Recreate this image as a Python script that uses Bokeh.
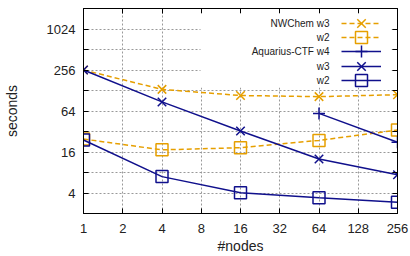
from bokeh.plotting import figure
from bokeh.models import Range1d, FixedTicker, LogAxis, Legend, LegendItem, Label, BoxAnnotation
from bokeh.embed import file_html
from bokeh.resources import INLINE

# ---- data ----
nodes = [1, 4, 16, 64, 256]
nwchem_w3 = [256, 133, 108, 104, 111]
nwchem_w2 = [24.8, 17.2, 18.5, 23.7, 33.6]
aq_w4_nodes = [64, 256]
aq_w4 = [59, 22.2]
aq_w3 = [256, 87, 32.5, 12.6, 7.4]
aq_w2 = [24, 6.96, 4.03, 3.41, 2.93]

x_ticks = [1, 2, 4, 8, 16, 32, 64, 128, 256]
x_tick_labels = ["1", "2", "4", "8", "16", "32", "64", "128", "256"]
y_ticks = [4, 16, 64, 256, 1024]
y_tick_labels = ["4", "16", "64", "256", "1024"]
y_minor = [8, 32, 128, 512]
y_all = [4, 8, 16, 32, 64, 128, 256, 512, 1024]

legend_labels = ["NWChem w3", "w2", "Aquarius-CTF w4", "w3", "w2"]

ORANGE = "#e69f00"
NAVY = "#10108c"
FONT = "Liberation Sans"

W, H = 410, 256
p = figure(width=W, height=H, x_axis_type="log", y_axis_type="log",
           x_range=Range1d(1, 256), y_range=Range1d(2, 2048),
           output_backend="svg", toolbar_location=None,
           min_border_left=81, min_border_right=13, min_border_top=8, min_border_bottom=43)

p.outline_line_color = "black"
p.background_fill_color = "white"

xt = FixedTicker(ticks=x_ticks, minor_ticks=[])
yt = FixedTicker(ticks=y_ticks, minor_ticks=y_minor)

def style_axis(ax, ticker, labels):
    ax.ticker = ticker
    ax.major_label_overrides = labels
    ax.major_tick_in = 5
    ax.major_tick_out = 0
    ax.minor_tick_in = 5
    ax.minor_tick_out = 0
    ax.axis_line_color = "black"
    ax.major_tick_line_color = "black"
    ax.minor_tick_line_color = "black"
    ax.major_label_text_font = FONT
    ax.major_label_text_font_size = "13px"
    ax.major_label_text_color = "#222222"
    ax.axis_label_text_font = FONT
    ax.axis_label_text_font_size = "14px"
    ax.axis_label_text_font_style = "normal"
    ax.axis_label_text_color = "#222222"

style_axis(p.xaxis[0], xt, dict(zip(x_ticks, x_tick_labels)))
style_axis(p.yaxis[0], yt, dict(zip(y_ticks, y_tick_labels)))
p.xaxis[0].axis_label = "#nodes"
p.yaxis[0].axis_label = "seconds"
p.xaxis[0].major_label_standoff = 10
p.xaxis[0].axis_label_standoff = 2
p.yaxis[0].major_label_standoff = 8
p.yaxis[0].axis_label_standoff = 24

# mirror ticks (no labels): only minor ticks on the right/top axes
for place, ticker in (("right", FixedTicker(ticks=[], minor_ticks=y_all)),
                      ("above", FixedTicker(ticks=[], minor_ticks=x_ticks))):
    ax = LogAxis(ticker=ticker)
    ax.minor_tick_in = 5
    ax.minor_tick_out = 0
    ax.minor_tick_line_color = "black"
    ax.major_label_standoff = 0
    ax.axis_line_color = "black"
    p.add_layout(ax, place)

for g in (p.xgrid[0], p.ygrid[0]):
    g.grid_line_color = "#999999"
    g.grid_line_dash = "2 2"
    g.grid_line_width = 1
p.ygrid[0].minor_grid_line_color = "#999999"
p.ygrid[0].minor_grid_line_dash = "2 2"
p.ygrid[0].minor_grid_line_width = 1

# ---- series ----
r_nw3_l = p.line(nodes, nwchem_w3, line_color=ORANGE, line_width=1.5, line_dash="5 3")
r_nw3_m = p.scatter(nodes, nwchem_w3, marker="x", size=12, line_color=ORANGE, line_width=1.5)
r_nw2_l = p.line(nodes, nwchem_w2, line_color=ORANGE, line_width=1.5, line_dash="5 3")
r_nw2_m = p.scatter(nodes, nwchem_w2, marker="square", size=12, line_color=ORANGE, fill_alpha=0, line_width=1.5)
r_aq4_l = p.line(aq_w4_nodes, aq_w4, line_color=NAVY, line_width=1.5)
r_aq4_m = p.scatter(aq_w4_nodes, aq_w4, marker="cross", size=12, line_color=NAVY, line_width=1.5)
r_aq3_l = p.line(nodes, aq_w3, line_color=NAVY, line_width=1.5)
r_aq3_m = p.scatter(nodes, aq_w3, marker="x", size=12, line_color=NAVY, line_width=1.5)
r_aq2_l = p.line(nodes, aq_w2, line_color=NAVY, line_width=1.5)
r_aq2_m = p.scatter(nodes, aq_w2, marker="square", size=12, line_color=NAVY, fill_alpha=0, line_width=1.5)

# ---- key (gnuplot style: text right-aligned, sample to the right) ----
box = BoxAnnotation(left=200, right=391, top=13, bottom=87,
                    left_units="canvas", right_units="canvas", top_units="canvas", bottom_units="canvas",
                    fill_color="white", fill_alpha=1.0, line_alpha=0)
p.add_layout(box)

rend_groups = [[r_nw3_l, r_nw3_m], [r_nw2_l, r_nw2_m], [r_aq4_l, r_aq4_m],
               [r_aq3_l, r_aq3_m], [r_aq2_l, r_aq2_m]]

row_top = 22.7
pitch = 14.3
frame_bottom = H - 43
glyph_h = 30
for i, (t, g) in enumerate(zip(legend_labels, rend_groups)):
    cy = row_top + i * pitch
    lg = Legend(items=[LegendItem(label="", renderers=g)],
                location=(258, frame_bottom - cy - glyph_h / 2),
                glyph_width=40, glyph_height=glyph_h, label_height=glyph_h,
                spacing=0, padding=0, margin=0, label_standoff=0,
                label_text_font_size="1px", label_width=0,
                background_fill_alpha=0, border_line_alpha=0)
    p.add_layout(lg)
    p.add_layout(Label(x=329, y=cy, x_units="canvas", y_units="canvas",
                       text=t, text_align="right", text_baseline="middle",
                       text_font=FONT, text_font_size="10px", text_color="#222222"))

open("out.html", "w").write(file_html(p, INLINE))
